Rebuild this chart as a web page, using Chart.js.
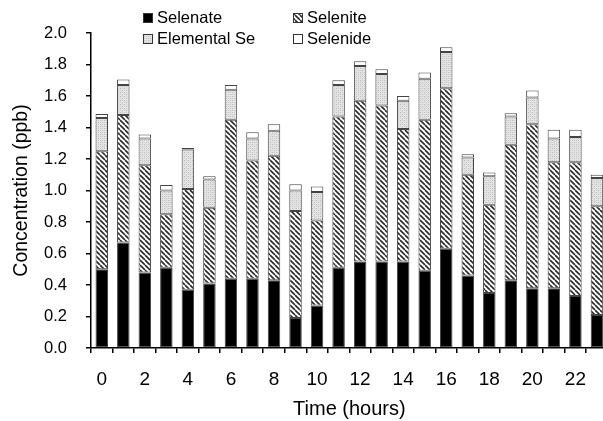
<!DOCTYPE html>
<html>
<head>
<meta charset="utf-8">
<script src="https://cdn.jsdelivr.net/npm/chart.js@4.4.1/dist/chart.umd.min.js"></script>
<style>
  html, body { margin: 0; padding: 0; background: #fff; overflow: hidden; width: 603px; height: 421px; }
  #wrap { position: absolute; left: 0; top: 0; width: 612px; height: 421px; }
</style>
</head>
<body>
<div id="wrap"><canvas id="c" width="612" height="421"></canvas></div>
<script>
const hours = ['0','1','2','3','4','5','6','7','8','9','10','11','12','13','14','15','16','17','18','19','20','21','22','23'];
const selenate  = [0.50,0.67,0.48,0.51,0.37,0.41,0.44,0.44,0.43,0.19,0.27,0.51,0.55,0.55,0.55,0.49,0.63,0.46,0.35,0.43,0.38,0.38,0.33,0.21];
const selenite  = [0.75,0.81,0.68,0.34,0.64,0.48,1.01,0.75,0.79,0.68,0.54,0.96,1.02,0.99,0.84,0.96,1.02,0.64,0.56,0.86,1.04,0.80,0.85,0.69];
const elemental = [0.21,0.19,0.17,0.15,0.25,0.18,0.19,0.14,0.16,0.13,0.18,0.20,0.22,0.20,0.18,0.26,0.23,0.11,0.18,0.18,0.17,0.15,0.16,0.18];
const selenide  = [0.025,0.035,0.025,0.035,0.01,0.02,0.03,0.04,0.04,0.04,0.035,0.03,0.03,0.03,0.03,0.04,0.03,0.02,0.025,0.02,0.045,0.055,0.045,0.02];
const seriesNames = ['Selenate','Selenite','Elemental Se','Selenide'];
const yTicks = [0.0,0.2,0.4,0.6,0.8,1.0,1.2,1.4,1.6,1.8,2.0];

Chart.defaults.font.family = "'Liberation Sans', Arial, sans-serif";
Chart.defaults.color = '#000';

function hatchPattern() {
  const s = 5;
  const cv = document.createElement('canvas');
  cv.width = s; cv.height = s;
  const g = cv.getContext('2d');
  g.fillStyle = '#fff'; g.fillRect(0,0,s,s);
  g.strokeStyle = '#2a2a2a'; g.lineWidth = 1.6;
  for (const x0 of [-s, 0, s]) {
    g.beginPath(); g.moveTo(x0, 0); g.lineTo(x0 + s, s); g.stroke();
  }
  return g.createPattern(cv, 'repeat');
}
function stipplePattern() {
  const cv = document.createElement('canvas');
  cv.width = 4; cv.height = 4;
  const g = cv.getContext('2d');
  g.fillStyle = '#e2e2e2'; g.fillRect(0,0,4,4);
  g.fillStyle = '#c0c0c0';
  g.fillRect(0,0,1,1); g.fillRect(2,2,1,1);
  g.fillStyle = '#d0d0d0';
  g.fillRect(2,0,1,1); g.fillRect(0,2,1,1);
  return g.createPattern(cv, 'repeat');
}
const fills = ['#000000', hatchPattern(), stipplePattern(), '#ffffff'];
const values = [selenate, selenite, elemental, selenide];

const legendPlugin = {
  id: 'customLegend',
  afterDraw(chart) {
    const ctx = chart.ctx;
    const cols = [143, 293], rows = [13, 34];
    const place = [[0,0],[1,0],[0,1],[1,1]];
    ctx.save();
    chart.data.datasets.forEach((ds, i) => {
      const x = cols[place[i][0]], y = rows[place[i][1]];
      ctx.fillStyle = ds.backgroundColor;
      ctx.fillRect(x, y, 10, 10);
      ctx.strokeStyle = '#333'; ctx.lineWidth = 1;
      ctx.strokeRect(x + 0.5, y + 0.5, 9, 9);
      ctx.fillStyle = '#000';
      ctx.font = "16.5px 'Liberation Sans', Arial, sans-serif";
      ctx.textBaseline = 'middle'; ctx.textAlign = 'left';
      ctx.fillText(ds.label, x + 14, y + 5.5);
    });
    ctx.restore();
  }
};

new Chart(document.getElementById('c'), {
  type: 'bar',
  data: {
    labels: hours,
    datasets: seriesNames.map((n, i) => ({
      label: n,
      data: values[i],
      backgroundColor: fills[i],
      borderColor: '#444',
      borderWidth: 1,
      borderSkipped: false,
      barPercentage: 0.58,
      categoryPercentage: 1.0
    }))
  },
  options: {
    responsive: false,
    animation: false,
    devicePixelRatio: 1,
    layout: { padding: { top: 33, right: 2.6, left: 0, bottom: 0 } },
    plugins: { legend: { display: false }, tooltip: { enabled: false } },
    scales: {
      x: {
        stacked: true,
        offset: true,
        afterFit: (s) => { s.height = 73; },
        grid: { offset: true, drawOnChartArea: false, drawTicks: true, tickLength: 5, color: '#000', lineWidth: 1.5 },
        border: { display: true, color: '#000', width: 1.5 },
        ticks: {
          autoSkip: false, maxRotation: 0, padding: 15,
          font: { size: 19 },
          callback: (v, i) => (i % 2 === 0 ? hours[i] : '')
        },
        title: { display: true, text: 'Time (hours)', font: { size: 20 }, padding: { top: 0, bottom: 0 } }
      },
      y: {
        stacked: true,
        min: 0, max: 2.0,
        afterFit: (s) => { s.width = 91; },
        afterBuildTicks: (s) => { s.ticks = yTicks.map(v => ({ value: v })); },
        grid: { drawOnChartArea: false, drawTicks: true, tickLength: 5, color: '#000', lineWidth: 1.5 },
        border: { display: true, color: '#000', width: 1.5 },
        ticks: { padding: 19, font: { size: 16.5 }, callback: (v) => Number(v).toFixed(1) },
        title: { display: true, text: 'Concentration (ppb)', font: { size: 19.5 }, padding: { top: 10, bottom: 0 } }
      }
    }
  },
  plugins: [legendPlugin]
});
</script>
</body>
</html>
